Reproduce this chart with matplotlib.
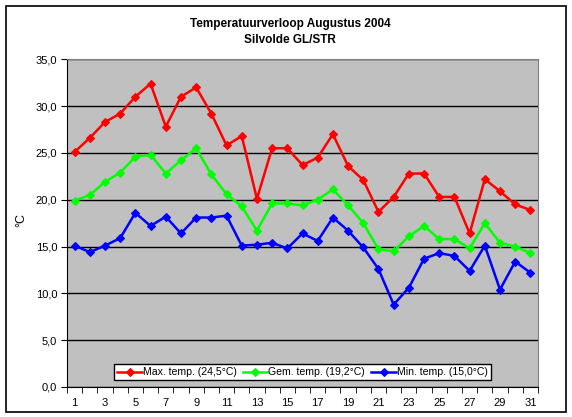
import matplotlib
matplotlib.use("Agg")
import matplotlib.pyplot as plt
from matplotlib.patches import Rectangle

plt.rcParams['font.family'] = ['Liberation Sans', 'DejaVu Sans']

days = list(range(1, 32))
max_temp = [25.1, 26.6, 28.3, 29.2, 31.0, 32.4, 27.8, 31.0, 32.0, 29.2,
            25.8, 26.8, 20.1, 25.5, 25.5, 23.7, 24.5, 27.0, 23.6, 22.1,
            18.7, 20.3, 22.8, 22.8, 20.3, 20.3, 16.4, 22.2, 20.9, 19.5, 18.9]
gem_temp = [19.9, 20.5, 21.9, 22.9, 24.6, 24.8, 22.8, 24.2, 25.5, 22.7,
            20.6, 19.3, 16.7, 19.6, 19.6, 19.4, 20.0, 21.1, 19.4, 17.5,
            14.7, 14.5, 16.1, 17.2, 15.8, 15.8, 14.8, 17.5, 15.4, 15.0, 14.3]
min_temp = [15.1, 14.4, 15.1, 15.9, 18.6, 17.2, 18.2, 16.4, 18.1, 18.1,
            18.3, 15.1, 15.2, 15.4, 14.8, 16.4, 15.6, 18.1, 16.7, 14.9,
            12.6, 8.8, 10.6, 13.7, 14.3, 14.0, 12.4, 15.1, 10.4, 13.4, 12.2]
labels = ["Max. temp. (24,5°C)", "Gem. temp. (19,2°C)", "Min. temp. (15,0°C)"]
colors = ["#FF0000", "#00FF00", "#0000FF"]
yticks = [0, 5, 10, 15, 20, 25, 30, 35]

fig = plt.figure(figsize=(5.72, 4.17), dpi=100)
fig.patches.append(Rectangle((5.5/572, 1 - 411.5/417), 560.5/572, 406/417,
                             transform=fig.transFigure, fill=False,
                             edgecolor='black', linewidth=1.2))
ax = fig.add_axes([67/572, 1 - 387/417, 471/572, (387 - 59.3)/417])
ax.set_facecolor('#C0C0C0')

for series, lab, col in zip([max_temp, gem_temp, min_temp], labels, colors):
    ax.plot(days, series, color=col, linewidth=1.8, marker='D', markersize=4.5,
            markeredgewidth=0.8, label=lab)

ax.set_xlim(0.5, 31.5)
ax.set_ylim(0, 35)
ax.set_yticks(yticks)
ax.set_yticklabels([f"{v:.1f}".replace('.', ',') for v in yticks], fontsize=8)
ax.yaxis.grid(True, color='black', linewidth=1)
ax.set_axisbelow(True)
ax.set_xticks(days[::2])
ax.set_xticklabels([str(d) for d in days[::2]], fontsize=8)
ax.set_xticks([d + 0.5 for d in range(0, 32)], minor=True)
ax.tick_params(axis='x', which='major', length=0, pad=8)
ax.tick_params(axis='x', which='minor', length=4, direction='out', color='black')
ax.tick_params(axis='y', length=4, direction='out', color='black', pad=3)
for s in ['top', 'right']:
    ax.spines[s].set_color('#808080')
for s in ['left', 'bottom']:
    ax.spines[s].set_color('black')

fig.text(21/572, 1 - 220/417, "°C", rotation=90, ha='center', va='center',
         fontsize=9)

leg = ax.legend(loc='lower center', bbox_to_anchor=(0.5, 0.02), ncol=3,
                fontsize=7.6, frameon=True, fancybox=False, framealpha=1,
                edgecolor='black', handlelength=2.3, handletextpad=0.1,
                columnspacing=0.6, borderpad=0.3, borderaxespad=0)
leg.get_frame().set_linewidth(1)

fig.text(290/572, 1 - 24/417, "Temperatuurverloop Augustus 2004", ha='center',
         va='center', fontsize=8.5, fontweight='bold')
fig.text(290/572, 1 - 40/417, "Silvolde GL/STR", ha='center', va='center',
         fontsize=8.5, fontweight='bold')

fig.savefig("out.png", dpi=100)
